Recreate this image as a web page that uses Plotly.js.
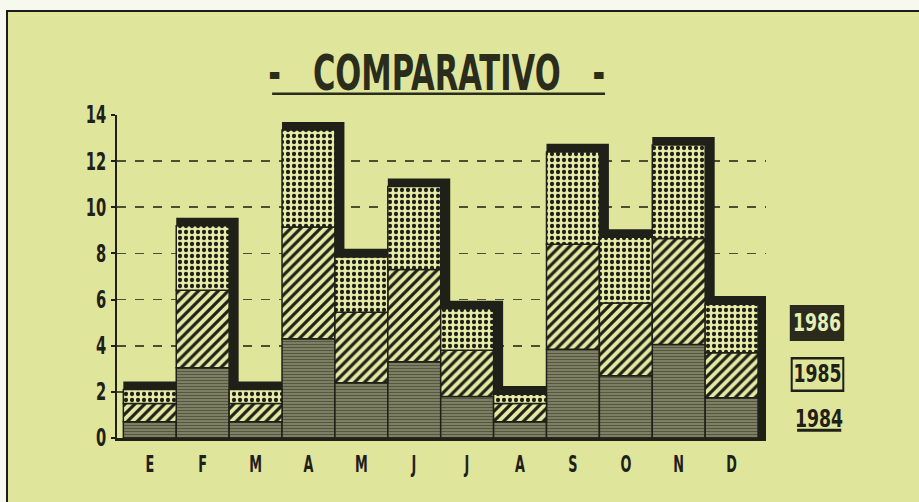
<!DOCTYPE html>
<html>
<head>
<meta charset="utf-8">
<script src="https://cdn.plot.ly/plotly-3.0.1.min.js"></script>
<style>
  html, body { margin: 0; padding: 0; background: #f7f8ee; width: 919px; height: 502px; overflow: hidden; }
  #frame { position: absolute; left: 6px; top: 10px; width: 911px; height: 490px;
           border-top: 2px solid #1e1e18; border-left: 2px solid #1e1e18; background: #dfe69c; }
  #chart { width: 911px; height: 490px; }
</style>
</head>
<body>
<div id="frame"><div id="chart"></div></div>
<script>
// Month initials (Spanish)
const months = ["E", "F", "M", "A", "M", "J", "J", "A", "S", "O", "N", "D"];
// Segment values
const v1984 = [0.7, 3.05, 0.7, 4.3, 2.4, 3.3, 1.8, 0.7, 3.85, 2.7, 4.05, 1.75];
const v1985 = [0.8, 3.35, 0.8, 4.85, 3.05, 4.0, 2.0, 0.8, 4.55, 3.15, 4.6, 1.95];
const v1986 = [0.6, 2.8, 0.6, 4.2, 2.4, 3.6, 1.8, 0.4, 4.0, 2.85, 4.05, 2.1];
const yTicks = [0, 2, 4, 6, 8, 10, 12, 14];
const seriesNames = ["1984", "1985", "1986"];

const pos = months.map((m, i) => i);
const base1985 = v1984.slice();
const base1986 = v1984.map((v, i) => v + v1985[i]);
const totals = base1986.map((v, i) => v + v1986[i]);
const shadowPad = 0.35;
const shadow = totals.map(v => v + shadowPad);

const dark = "#1f2017";
const bg = "#dfe69c";

const traces = [
  {
    type: "bar", x: pos, y: shadow, base: 0, width: 1.18, offset: -0.5,
    marker: { color: dark, line: { width: 0 } }, hoverinfo: "skip", showlegend: false
  },
  {
    type: "bar", name: seriesNames[0], x: pos, y: v1984, base: 0, width: 1, offset: -0.5,
    marker: { color: "#777a5a",
      pattern: { shape: "-", fgcolor: "#55573f", bgcolor: "#84876a", size: 3, solidity: 0.45 },
      line: { color: dark, width: 1.5 } },
    showlegend: false
  },
  {
    type: "bar", name: seriesNames[1], x: pos, y: v1985, base: base1985, width: 1, offset: -0.5,
    marker: { color: "#e3eaa4",
      pattern: { shape: "/", fgcolor: dark, bgcolor: "#e3eaa4", size: 7, solidity: 0.45 },
      line: { color: dark, width: 1.5 } },
    showlegend: false
  },
  {
    type: "bar", name: seriesNames[2], x: pos, y: v1986, base: base1986, width: 1, offset: -0.5,
    marker: { color: "#e6eca8",
      pattern: { shape: ".", fgcolor: dark, bgcolor: "#e6eca8", size: 6, solidity: 0.4 },
      line: { color: dark, width: 1.5 } },
    showlegend: false
  }
];

const font = "DejaVu Sans Condensed, DejaVu Sans, sans-serif";

const layout = {
  width: 911, height: 490,
  margin: { l: 109, r: 153, t: 103, b: 64, pad: 0 },
  paper_bgcolor: bg, plot_bgcolor: bg,
  barmode: "overlay",
  showlegend: false,
  xaxis: {
    range: [-0.62, 11.65],
    tickmode: "array", tickvals: pos, ticktext: months,
    showgrid: false, zeroline: false,
    showline: true, linecolor: dark, linewidth: 3,
    ticks: "", ticklabelstandoff: 3,
    tickfont: { family: font, size: 23, color: dark, weight: "bold" }
  },
  yaxis: {
    range: [0, 14],
    tickmode: "array", tickvals: yTicks, ticktext: yTicks.map(String),
    showgrid: true, gridcolor: "rgba(40,41,28,0.8)", gridwidth: 1.8, griddash: "dash",
    zeroline: false,
    showline: true, linecolor: dark, linewidth: 2,
    ticks: "outside", ticklen: 4, tickwidth: 2, tickcolor: dark,
    tickfont: { family: font, size: 24, color: dark, weight: "bold" }
  },
  annotations: [
    {
      xref: "paper", yref: "paper", x: 0.493, y: 1.13,
      text: "-   COMPARATIVO   -", showarrow: false,
      font: { family: font, size: 50, color: "#2a2c1c", weight: "bold" },
      xanchor: "center", yanchor: "middle"
    },
    {
      xref: "paper", yref: "paper", x: 1.0786, y: 0.355,
      text: seriesNames[2], showarrow: false,
      font: { family: font, size: 24, color: "#e8eeb4", weight: "bold" },
      bgcolor: "#2a2b1d", bordercolor: "#2a2b1d", borderwidth: 2, borderpad: 2,
      xanchor: "center", yanchor: "middle"
    },
    {
      xref: "paper", yref: "paper", x: 1.0786, y: 0.197,
      text: seriesNames[1], showarrow: false,
      font: { family: font, size: 24, color: dark, weight: "bold" },
      bgcolor: bg, bordercolor: dark, borderwidth: 2.5, borderpad: 1,
      xanchor: "center", yanchor: "middle"
    },
    {
      xref: "paper", yref: "paper", x: 1.082, y: 0.058,
      text: seriesNames[0], showarrow: false,
      font: { family: font, size: 24, color: dark, weight: "bold" },
      xanchor: "center", yanchor: "middle"
    }
  ],
  shapes: [
    { type: "line", xref: "paper", yref: "paper", x0: 0.239, x1: 0.752, y0: 1.066, y1: 1.066,
      line: { color: "#2a2c1c", width: 2.5 } },
    { type: "line", xref: "paper", yref: "paper", x0: 1.048, x1: 1.116, y0: 0.024, y1: 0.024,
      line: { color: dark, width: 3 } }
  ]
};

// Horizontally condense an SVG element around a fixed point (center or right edge)
function condense(el, s, anchor) {
  const b = el.getBBox();
  const px = anchor === "end" ? b.x + b.width : b.x + b.width / 2;
  const prev = el.getAttribute("transform") || "";
  el.setAttribute("transform",
    prev + " translate(" + px + ",0) scale(" + s + ",1) translate(" + (-px) + ",0)");
}

Plotly.newPlot("chart", traces, layout, { displayModeBar: false, staticPlot: true }).then(() => {
  const anns = document.querySelectorAll("#chart .annotation");
  anns.forEach((a, i) => {
    if (i === 0) {
      const t = a.querySelector("text.annotation-text");
      if (t) condense(t, 0.68, "middle");
    } else {
      const g = a.querySelector(".annotation-text-g");
      if (g) condense(g, 0.8, "middle");
    }
  });
  document.querySelectorAll("#chart .xtick text").forEach(el => condense(el, 0.62, "middle"));
  document.querySelectorAll("#chart .ytick text").forEach(el => condense(el, 0.68, "end"));
});
</script>
</body>
</html>
